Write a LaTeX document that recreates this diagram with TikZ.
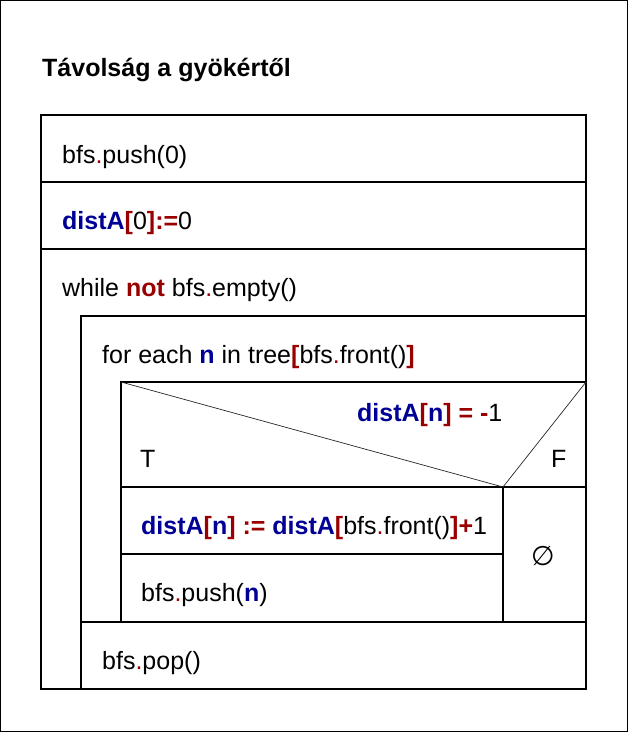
\documentclass[tikz,border=0pt]{standalone}
\usepackage{fontspec}
\setmainfont{Liberation Sans}
\newfontfamily\symfont{DejaVu Sans}
\definecolor{dblue}{RGB}{0,0,150}
\definecolor{dred}{RGB}{153,0,0}
\newcommand{\Bb}[1]{\textcolor{dblue}{\bfseries #1}}
\newcommand{\Rb}[1]{\textcolor{dred}{\bfseries #1}}
\newcommand{\Rd}[1]{\textcolor{dred}{#1}}
\begin{document}
\begin{tikzpicture}[x=1pt,y=-1pt,
  frame/.style={draw=black,line width=1.1pt},
  diag/.style={draw=black!85,line width=0.7pt},
  code/.style={anchor=base west,inner sep=0pt,font=\fontsize{25}{29}\selectfont},
  titletext/.style={anchor=base west,inner sep=0pt,font=\fontsize{25}{29}\selectfont\bfseries}]
\useasboundingbox (0,0) rectangle (628,732);
\draw[frame] (0.6,0.6) rectangle (627.4,731.4);
% main structure
\draw[frame] (41,115) rectangle (586,689);
\draw[frame] (41,182) -- (586,182);
\draw[frame] (41,249) -- (586,249);
\draw[frame] (81,689) -- (81,316) -- (586,316);
\draw[frame] (121,622) -- (121,382) -- (586,382);
\draw[frame] (81,622) -- (586,622);
\draw[frame] (121,487) -- (586,487);
\draw[frame] (503,487) -- (503,622);
\draw[frame] (121,554) -- (503,554);
\draw[diag] (121,382) -- (503,487) -- (586,382);
% texts
\node[titletext] (title) at (42,76) {Távolság a gyökértől};
\node[code] (push0) at (62,163) {bfs\Rd{.}push(0)};
\node[code] (dist0) at (62,229) {\Bb{distA}\Rb{[}0\Rb{]:=}0};
\node[code] (while) at (62,296) {while \Rb{not} bfs\Rd{.}empty()};
\node[code] (for) at (102,363) {for each \Bb{n} in tree\Rb{[}bfs\Rd{.}front()\Rb{]}};
\node[code] (cond) at (357,421) {\Bb{distA}\Rb{[}\Bb{n}\Rb{] = -}1};
\node[code] (T) at (140,467) {T};
\node[code] (F) at (551,467) {F};
\node[code] (assign) at (141,534) {\Bb{distA}\Rb{[}\Bb{n}\Rb{] :=} \Bb{distA}\Rb{[}bfs\Rd{.}front()\Rb{]+}1};
\node[code] (pushn) at (141,601) {bfs\Rd{.}push(\Bb{n})};
\node[inner sep=0pt,font=\fontsize{27}{30}\selectfont\symfont] (empty) at (543,556) {∅};
\node[code] (pop) at (102,669) {bfs\Rd{.}pop()};
\end{tikzpicture}
\end{document}
